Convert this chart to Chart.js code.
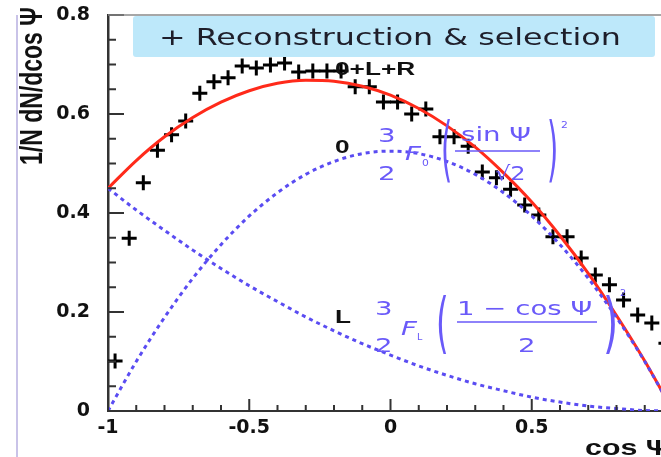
<!DOCTYPE html>
<html>
<head>
<meta charset="utf-8">
<script src="https://cdn.jsdelivr.net/npm/chart.js@4/dist/chart.umd.min.js"></script>
<style>
html, body { margin: 0; padding: 0; background: #fff; overflow: hidden; }
</style>
</head>
<body>
<canvas id="myChart" width="690" height="457"></canvas>
<script>
// measured points (bin centres in cos psi, 0.05 wide)
const cosBins = [-0.975, -0.925, -0.875, -0.825, -0.775, -0.725, -0.675, -0.625, -0.575, -0.525,
    -0.475, -0.425, -0.375, -0.325, -0.275, -0.225, -0.175, -0.125, -0.075, -0.025,
    0.025, 0.075, 0.125, 0.175, 0.225, 0.275, 0.325, 0.375, 0.425, 0.475,
    0.525, 0.575, 0.625, 0.675, 0.725, 0.775, 0.825, 0.875, 0.925, 0.975];
const recoVals = [0.101, 0.349, 0.461, 0.527, 0.558, 0.586, 0.642, 0.665, 0.673, 0.697,
    0.693, 0.699, 0.703, 0.685, 0.687, 0.687, 0.687, 0.655, 0.655, 0.624,
    0.624, 0.600, 0.610, 0.554, 0.554, 0.535, 0.483, 0.471, 0.448, 0.416,
    0.396, 0.352, 0.352, 0.309, 0.275, 0.255, 0.224, 0.194, 0.178, 0.137];

// fitted curves
const cosCurve = [-1, -0.9, -0.8, -0.7, -0.6, -0.5, -0.4, -0.3, -0.2, -0.1, 0,
    0.1, 0.2, 0.3, 0.4, 0.5, 0.6, 0.7, 0.8, 0.9, 1];
const totalFit = [0.450, 0.506, 0.554, 0.593, 0.624, 0.647, 0.662, 0.668, 0.666, 0.656, 0.638,
    0.611, 0.576, 0.533, 0.481, 0.422, 0.354, 0.278, 0.193, 0.101, 0];
const zeroFit = [0, 0.100, 0.189, 0.268, 0.336, 0.394, 0.441, 0.478, 0.504, 0.520, 0.525,
    0.520, 0.504, 0.478, 0.441, 0.394, 0.336, 0.268, 0.189, 0.100, 0];
const leftFit = [0.450, 0.406, 0.365, 0.325, 0.288, 0.253, 0.221, 0.190, 0.162, 0.136, 0.113,
    0.091, 0.072, 0.055, 0.041, 0.028, 0.018, 0.010, 0.005, 0.001, 0];

const xTicks = [-1, -0.5, 0, 0.5, 1];
const yTicks = [0, 0.2, 0.4, 0.6, 0.8];

const BLUE = '#6a5af9';
const DOTS = '#5a4cf2';

function pts(xs, ys) {
    return xs.map((x, i) => ({x: x, y: ys[i]}));
}

function txt(ctx, s, x, y, font, color, sx, align, base) {
    ctx.save();
    ctx.translate(x, y);
    ctx.scale(sx, 1);
    ctx.font = font;
    ctx.fillStyle = color;
    ctx.textAlign = align || 'left';
    ctx.textBaseline = base || 'alphabetic';
    ctx.fillText(s, 0, 0);
    ctx.restore();
}

const deco = {
    id: 'deco',
    beforeDraw(chart) {
        const ctx = chart.ctx;
        ctx.save();
        ctx.fillStyle = '#fff';
        ctx.fillRect(0, 0, chart.width, chart.height);
        // slide edge
        ctx.strokeStyle = '#c9c3e8';
        ctx.lineWidth = 2;
        ctx.beginPath();
        ctx.moveTo(17, 15);
        ctx.lineTo(17, chart.height);
        ctx.stroke();
        ctx.restore();
    },
    afterDraw(chart) {
        const ctx = chart.ctx;
        const xs = chart.scales.x, ys = chart.scales.y;
        const a = chart.chartArea;
        ctx.save();
        // inward ticks
        ctx.strokeStyle = '#333';
        ctx.lineWidth = 2;
        ctx.beginPath();
        for (let i = 0; i <= 16; i++) {
            const py = ys.getPixelForValue(i * 0.05);
            const len = i % 4 === 0 ? 16 : 8;
            ctx.moveTo(a.left, py);
            ctx.lineTo(a.left + len, py);
        }
        for (let i = 0; i <= 20; i++) {
            const px = xs.getPixelForValue(-1 + i * 0.1);
            const len = i % 5 === 0 ? 12 : 6;
            ctx.moveTo(px, a.bottom);
            ctx.lineTo(px, a.bottom - len);
        }
        ctx.stroke();

        // legend box
        ctx.fillStyle = '#bde8fa';
        ctx.beginPath();
        if (ctx.roundRect) ctx.roundRect(133, 16, 522, 41, 3); else ctx.rect(133, 16, 522, 41);
        ctx.fill();

        // top frame
        ctx.strokeStyle = '#8a8a8a';
        ctx.lineWidth = 1.5;
        ctx.beginPath();
        ctx.moveTo(a.left, a.top);
        ctx.lineTo(chart.width, a.top);
        ctx.stroke();
        ctx.restore();

        txt(ctx, '+ Reconstruction & selection', 159, 45, '23px "DejaVu Sans"', '#1e1e2a', 1.38);

        // axis titles
        ctx.save();
        ctx.translate(33, 165);
        ctx.scale(1.38, 1);
        ctx.rotate(-Math.PI / 2);
        ctx.font = 'bold 23px "Liberation Sans"';
        ctx.fillStyle = '#111';
        ctx.textAlign = 'left';
        ctx.textBaseline = 'middle';
        ctx.fillText('1/N dN/dcos \u03A8', 0, 0);
        ctx.restore();
        txt(ctx, 'cos \u03A8', 585, 455, 'bold 22px "Liberation Sans"', '#111', 1.38);

        // curve labels
        txt(ctx, '0+L+R', 335, 75, 'bold 19px "Liberation Sans"', '#111', 1.38);
        txt(ctx, '0', 335, 153, 'bold 19px "Liberation Sans"', '#111', 1.38);
        txt(ctx, 'L', 335, 323, 'bold 19px "Liberation Sans"', '#111', 1.38);

        // formula for 0
        const f = '20px "DejaVu Sans"';
        txt(ctx, '3', 378, 142, f, BLUE, 1.38);
        txt(ctx, '2', 378, 180, f, BLUE, 1.38);
        txt(ctx, 'F', 405, 160, 'italic 20px "DejaVu Sans"', BLUE, 1.38);
        txt(ctx, '0', 422, 166, '9px "DejaVu Sans"', BLUE, 1.2);
        txt(ctx, '(', 441, 173, '72px "DejaVu Sans"', BLUE, 0.4);
        txt(ctx, 'sin \u03A8', 461, 141, f, BLUE, 1.38);
        txt(ctx, '\u221A2', 495, 180, f, BLUE, 1.2);
        txt(ctx, ')', 547, 173, '72px "DejaVu Sans"', BLUE, 0.4);
        txt(ctx, '2', 561, 128, '9px "DejaVu Sans"', BLUE, 1.2);

        // formula for L
        txt(ctx, '3', 375, 315, f, BLUE, 1.38);
        txt(ctx, '2', 375, 352, f, BLUE, 1.38);
        txt(ctx, 'F', 401, 335, 'italic 20px "DejaVu Sans"', BLUE, 1.38);
        txt(ctx, 'L', 417, 340, '8px "DejaVu Sans"', BLUE, 1.2);
        txt(ctx, '(', 436, 345, '65px "DejaVu Sans"', BLUE, 0.5);
        txt(ctx, '1 \u2212 cos \u03A8', 457, 315, f, BLUE, 1.38);
        txt(ctx, '2', 518, 352, f, BLUE, 1.38);
        txt(ctx, ')', 603, 345, '65px "DejaVu Sans"', BLUE, 0.6);
        txt(ctx, '2', 620, 296, '8px "DejaVu Sans"', BLUE, 1.2);

        ctx.save();
        ctx.strokeStyle = BLUE;
        ctx.lineWidth = 1.5;
        ctx.beginPath();
        ctx.moveTo(455, 151); ctx.lineTo(540, 151);
        ctx.moveTo(457, 322); ctx.lineTo(597, 322);
        ctx.stroke();
        ctx.restore();
    }
};

const tickFont = {family: 'DejaVu Sans', size: 19, weight: 'bold'};

const ctx = document.getElementById('myChart').getContext('2d');
const myChart = new Chart(ctx, {
    type: 'line',
    data: {
        datasets: [{
            label: 'L',
            data: pts(cosCurve, leftFit),
            borderColor: DOTS,
            borderWidth: 3,
            borderDash: [4, 4],
            pointRadius: 0,
            cubicInterpolationMode: 'monotone'
        }, {
            label: '0',
            data: pts(cosCurve, zeroFit),
            borderColor: DOTS,
            borderWidth: 3,
            borderDash: [4, 4],
            pointRadius: 0,
            cubicInterpolationMode: 'monotone'
        }, {
            label: '0+L+R',
            data: pts(cosCurve, totalFit),
            borderColor: '#ff2a1a',
            borderWidth: 3,
            pointRadius: 0,
            cubicInterpolationMode: 'monotone'
        }, {
            label: 'Reconstruction & selection',
            data: pts(cosBins, recoVals),
            showLine: false,
            pointStyle: 'cross',
            pointRadius: 7.5,
            pointBorderWidth: 3,
            borderColor: '#000',
            backgroundColor: '#000'
        }]
    },
    options: {
        responsive: false,
        animation: false,
        layout: {padding: {top: 15, right: 17, left: 0, bottom: 0}},
        plugins: {legend: {display: false}, tooltip: {enabled: false}},
        scales: {
            x: {
                type: 'linear',
                min: -1,
                max: 1,
                afterBuildTicks: s => { s.ticks = xTicks.map(v => ({value: v})); },
                afterFit: s => { s.height = 46; s.paddingLeft = 0; s.paddingRight = 0; },
                grid: {display: false, drawTicks: false},
                border: {display: true, color: '#333', width: 2},
                ticks: {font: tickFont, color: '#111', padding: 6, maxRotation: 0, autoSkip: false,
                    callback: v => String(v)}
            },
            y: {
                min: 0,
                max: 0.8,
                afterBuildTicks: s => { s.ticks = yTicks.map(v => ({value: v})); },
                afterFit: s => { s.width = 108; s.paddingTop = 0; s.paddingBottom = 0; },
                grid: {display: false, drawTicks: false},
                border: {display: true, color: '#333', width: 2.5},
                ticks: {font: tickFont, color: '#111', padding: 18, autoSkip: false,
                    callback: v => String(v)}
            }
        }
    },
    plugins: [deco]
});
</script>
</body>
</html>
